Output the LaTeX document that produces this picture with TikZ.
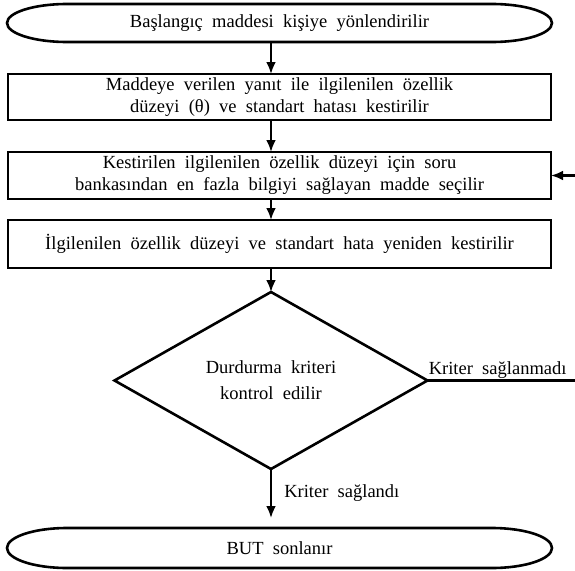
\documentclass[tikz,border=0pt]{standalone}
\usepackage{fontspec}
\setmainfont{Liberation Serif}[WordSpace=2]
\usetikzlibrary{arrows.meta,shapes.geometric,positioning,calc}

\tikzset{
  box/.style={draw, line width=2.8pt, minimum width=543pt, align=center,
    inner sep=0pt, outer sep=0pt},
  term/.style={minimum width=545pt, minimum height=38pt, align=center,
    inner sep=0pt, outer sep=0pt},
  dec/.style={draw, diamond, line width=2.6pt, minimum width=313pt,
    minimum height=177pt, align=center, inner sep=0pt, outer sep=0pt},
  flow/.style={line width=2.6pt, -{Latex[length=12pt,width=10pt]}},
}
% outline of a terminator node (flat top and bottom, half ellipses at the ends)
\newcommand{\termshape}[2]{%
  \draw[line width=2.6pt] ([xshift=60pt]#1.north west) -- ([xshift=-60pt]#1.north east)
    arc[start angle=90, end angle=-90, x radius=60pt, y radius=#2]
    -- ([xshift=60pt]#1.south west)
    arc[start angle=270, end angle=90, x radius=60pt, y radius=#2] -- cycle;}

\begin{document}
\begin{tikzpicture}[x=1pt, y=-1pt, font=\fontsize{18.5}{22}\selectfont]
  \useasboundingbox (0,0) rectangle (575,570);

  \node[term] (start) at (279.5,23) {Başlangıç maddesi kişiye yönlendirilir};
  \termshape{start}{19pt}

  \node[box, minimum height=46pt] (est) at (279.5,97)
    {Maddeye verilen yanıt ile ilgilenilen özellik\\düzeyi (θ) ve standart hatası kestirilir};
  \node[box, minimum height=47pt] (pick) at (279.5,175.5)
    {Kestirilen ilgilenilen özellik düzeyi için soru\\bankasından en fazla bilgiyi sağlayan madde seçilir};
  \node[box, minimum height=48pt] (reest) at (279.5,244)
    {İlgilenilen özellik düzeyi ve standart hata yeniden kestirilir};

  \node[dec, font=\fontsize{18.5}{26}\selectfont] (stopcheck) at (271,380.5)
    {Durdurma kriteri\\kontrol edilir};

  \node[term, minimum height=40pt] (stop) at (279.5,548) {BUT sonlanır};
  \termshape{stop}{20pt}

  \coordinate (back) at (590,380.5);

  \draw[flow] (start.south -| stopcheck.north) -- (est.north -| stopcheck.north);
  \draw[flow] (est.south -| stopcheck.north) -- (pick.north -| stopcheck.north);
  \draw[flow] (pick.south -| stopcheck.north) -- (reest.north -| stopcheck.north);
  \draw[flow] (reest.south -| stopcheck.north) -- (stopcheck.north);
  \draw[flow, shorten >=10pt] (stopcheck.south) -- node[pos=0.4, right=12pt, inner sep=0pt] {Kriter sağlandı}
    (stop.north -| stopcheck.south);
  \draw[flow] (stopcheck.east) -- node[pos=0.0, above right, inner sep=1pt, xshift=-1pt] {Kriter sağlanmadı} (back) |- (pick.east);
\end{tikzpicture}
\end{document}
